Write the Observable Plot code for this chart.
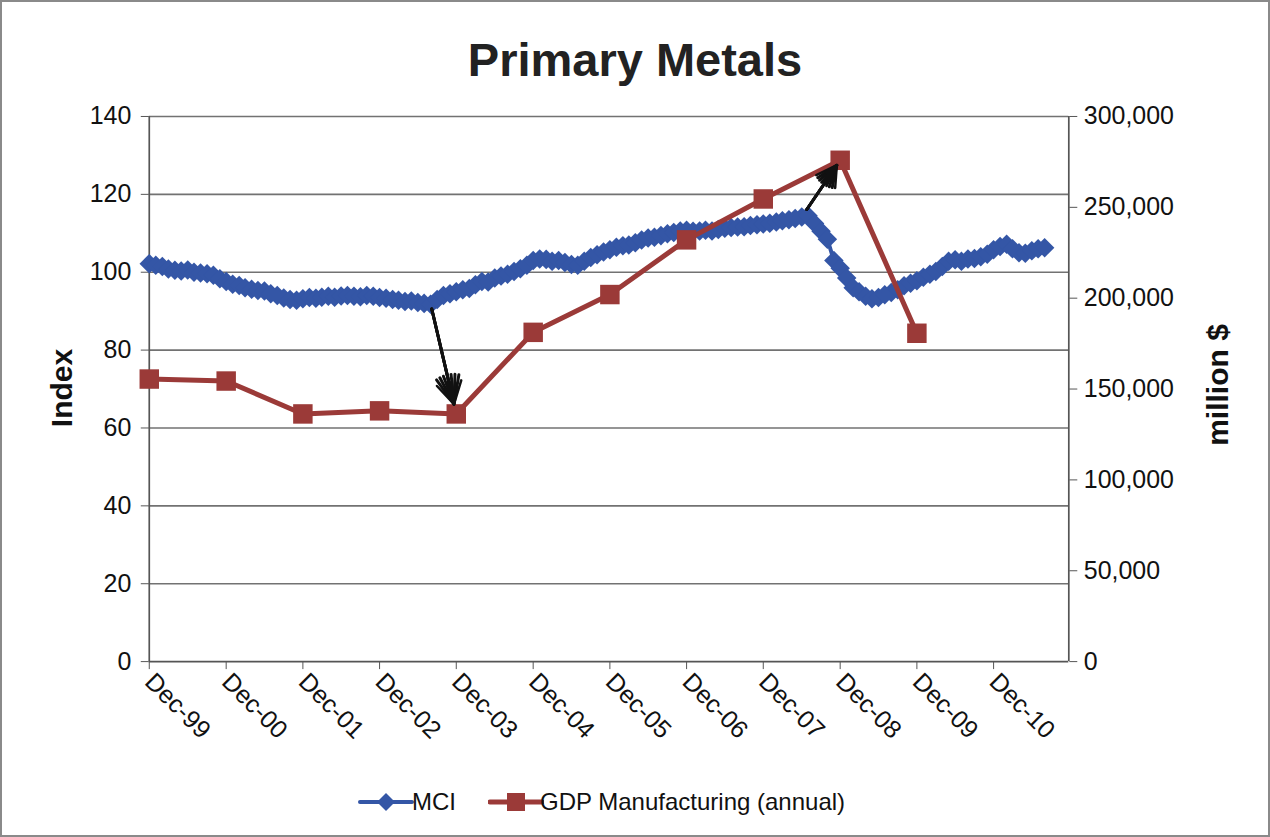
<!DOCTYPE html>
<html><head><meta charset="utf-8">
<script src="https://cdn.jsdelivr.net/npm/d3@7"></script>
<script src="https://cdn.jsdelivr.net/npm/@observablehq/plot@0.6"></script>
<style>
body{margin:0;background:#fff;font-family:"Liberation Sans",Arial,sans-serif;}
#wrap{position:relative;width:1266px;height:833px;overflow:hidden;border:2px solid #8a8a8a;background:#fff;}
#title{position:absolute;left:0;width:1266px;top:34px;text-align:center;font-weight:bold;font-size:47px;line-height:47px;color:#222;}
#chart{position:absolute;left:-2px;top:98px;}
.axlabel{position:absolute;width:240px;text-align:center;font-weight:bold;font-size:30px;line-height:30px;transform:rotate(-90deg);white-space:nowrap;color:#111;}
.leg{position:absolute;top:786px;font-size:24px;line-height:28px;color:#111;white-space:nowrap;}
.sw{position:absolute;top:786px;}
</style></head>
<body>
<div id="wrap">
  <div id="title">Primary Metals</div>
  <div id="chart"></div>
  <div class="axlabel" style="left:-60px;top:371px;">Index</div>
  <div class="axlabel" style="left:1096px;top:368px;">million $</div>
  <svg class="sw" style="left:356px" width="56" height="28"><line x1="2" y1="14" x2="54" y2="14" stroke="#3456a6" stroke-width="4" stroke-linecap="round"/><path d="M28,5 L37,14 L28,23 L19,14 Z" fill="#3456a6"/></svg>
  <div class="leg" style="left:410px">MCI</div>
  <svg class="sw" style="left:486px" width="56" height="28"><line x1="2" y1="14" x2="54" y2="14" stroke="#9b3a38" stroke-width="5" stroke-linecap="round"/><rect x="19" y="5" width="18" height="18" fill="#9b3a38"/></svg>
  <div class="leg" style="left:538px">GDP Manufacturing (annual)</div>
</div>
<script>
// ---- data ----
const mciStart = new Date(1999, 11, 1); // Dec-99, monthly through Aug-11
const mciValues = [
  102.2, 101.8, 101.5, 100.8, 100.5, 100.3, 100.6, 100.0, 99.8, 99.6, 99.2, 98.3,
  97.6, 96.9, 96.6, 96.0, 95.6, 95.3, 95.2, 94.5, 94.0, 93.4, 93.0, 92.8,
  93.2, 93.5, 93.3, 93.6, 93.8, 93.6, 93.9, 94.0, 93.8, 93.7, 94.0, 93.8,
  93.5, 93.3, 93.0, 92.8, 92.5, 92.6, 92.2, 92.0, 91.8, 93.0, 94.0, 94.5,
  95.0, 95.5, 95.8, 96.8, 97.6, 97.5, 98.5, 99.0, 99.5, 100.2, 100.9, 101.8,
  103.0, 103.4, 103.3, 102.8, 103.0, 102.5, 102.0, 101.8, 102.8, 103.8, 104.5, 105.2,
  105.8, 106.4, 106.8, 107.0, 107.6, 108.3, 108.8, 109.0, 109.4, 109.9, 110.2, 110.6,
  110.8, 110.5, 110.6, 110.8, 110.6, 111.0, 111.3, 111.5, 111.6, 111.7, 112.0, 112.2,
  112.4, 112.6, 112.9, 113.2, 113.5, 113.8, 114.2, 114.5, 112.5, 110.5, 108.5, 103.0,
  101.0, 98.5, 96.0, 95.0, 93.8, 93.2, 93.5, 94.2, 94.8, 95.5, 96.5, 97.2,
  97.8, 98.7, 99.5, 100.2, 101.5, 102.8, 103.2, 102.8, 103.4, 103.5, 104.0, 104.6,
  105.8, 106.6, 107.2, 106.0, 105.0, 104.9, 105.5, 106.0, 106.3
];
const gdpYears = [1999, 2000, 2001, 2002, 2003, 2004, 2005, 2006, 2007, 2008, 2009]; // December of each year
const gdpValues = [155500, 154400, 136300, 138000, 136300, 181200, 202000, 232100, 254600, 275900, 180700];
const xTickYears = [1999, 2000, 2001, 2002, 2003, 2004, 2005, 2006, 2007, 2008, 2009, 2010];
const leftTicks = [0, 20, 40, 60, 80, 100, 120, 140];
const rightTicks = [0, 50000, 100000, 150000, 200000, 250000, 300000];
// arrows: from an MCI month to a GDP December
const arrowNotes = [
  {fromMonth: 44, toYear: 2003, insetStart: 5, insetEnd: 10},
  {fromMonth: 102, toYear: 2008, insetStart: 9, insetEnd: 6}
];

// ---- build ----
const blue = "#3456a6", red = "#9b3a38";
const LEFT_MAX = 140, RIGHT_MAX = 300000;
const toLeft = v => v * LEFT_MAX / RIGHT_MAX;
const mci = mciValues.map((v, i) => ({date: d3.timeMonth.offset(mciStart, i), v}));
const gdp = gdpYears.map((y, i) => ({date: new Date(y, 11, 1), v: gdpValues[i], y: toLeft(gdpValues[i])}));
const xStart = new Date(1999, 11, 1), xEnd = new Date(2011, 10, 24);
const arrows = arrowNotes.map(a => {
  const m = mci[a.fromMonth], g = gdp.find(d => d.date.getFullYear() === a.toYear);
  return {x1: m.date, y1: m.v, x2: g.date, y2: g.y, insetStart: a.insetStart, insetEnd: a.insetEnd};
});
const fmtX = d3.timeFormat("%b-%y");
// filled-looking arrowheads: overlay arrows with narrowing head angles
const arrowMarks = arrows.flatMap(a => [60, 45, 30, 15].map((ang, k) =>
  Plot.arrow([a], {x1: "x1", y1: "y1", x2: "x2", y2: "y2", stroke: "#111", strokeWidth: k === 0 ? 2.5 : 3, headLength: 15, headAngle: ang, insetStart: a.insetStart, insetEnd: a.insetEnd})
));

const chart = Plot.plot({
  width: 1270,
  height: 660,
  marginLeft: 149,
  marginRight: 200,
  marginTop: 16,
  marginBottom: 98,
  style: {fontFamily: "'Liberation Sans', Arial, sans-serif", fontSize: "25px", color: "#111", background: "transparent"},
  x: {type: "time", domain: [xStart, xEnd]},
  y: {domain: [0, LEFT_MAX]},
  marks: [
    Plot.ruleY(leftTicks.filter(d => d > 0), {stroke: "#727272", strokeWidth: 1.7}),
    Plot.ruleX([xStart, xEnd], {y1: 0, y2: LEFT_MAX, stroke: "#555", strokeWidth: 1.7}),
    Plot.ruleY([0], {stroke: "#555", strokeWidth: 1.7}),
    Plot.axisY(leftTicks, {anchor: "left", tickSize: 8, tickPadding: 10, label: null, stroke: "#555"}),
    Plot.axisY(rightTicks.map(toLeft), {anchor: "right", tickSize: 8, tickPadding: 7, label: null, tickFormat: v => d3.format(",")(Math.round(v * RIGHT_MAX / LEFT_MAX)), stroke: "#555"}),
    Plot.axisX(xTickYears.map(y => new Date(y, 11, 1)), {anchor: "bottom", tickSize: 8, tickPadding: 8, tickRotate: 45, tickFormat: fmtX, label: null, stroke: "#555"}),
    Plot.line(mci, {x: "date", y: "v", stroke: blue, strokeWidth: 4}),
    Plot.dot(mci, {x: "date", y: "v", symbol: "diamond2", r: 8.8, fill: blue}),
    Plot.line(gdp, {x: "date", y: "y", stroke: red, strokeWidth: 5}),
    Plot.dot(gdp, {x: "date", y: "y", symbol: "square", r: 11, fill: red}),
    ...arrowMarks
  ]
});
document.getElementById("chart").appendChild(chart);
</script>
</body></html>
